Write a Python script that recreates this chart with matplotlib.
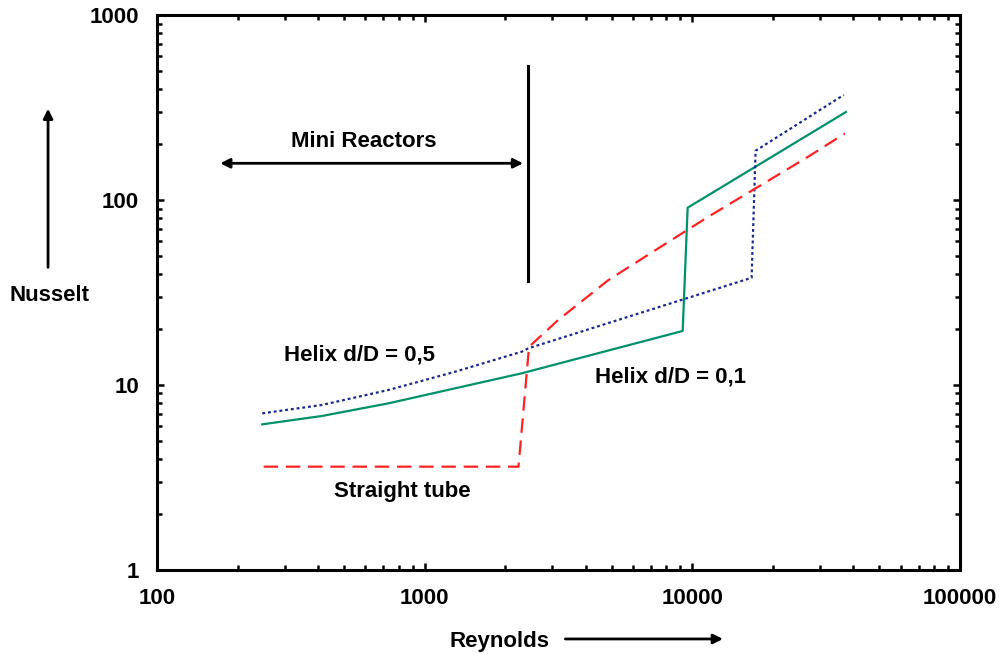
import matplotlib.pyplot as plt
from matplotlib.patches import FancyArrowPatch
from matplotlib.ticker import FixedLocator, FixedFormatter, LogLocator, NullFormatter

# data (Reynolds, Nusselt)
straight_re = [250, 2240, 2453, 3156, 4852, 7457, 11470, 17630, 27090, 37150]
straight_nu = [3.62, 3.62, 16.1, 22.5, 36.9, 54.8, 81.2, 118, 171.5, 229]

helix01_re = [247, 412, 731, 1298, 2303, 9200, 9603, 37480]
helix01_nu = [6.13, 6.80, 7.96, 9.60, 11.57, 19.6, 90.9, 299]

helix05_re = [247, 412, 731, 1298, 2303, 2438, 16650, 17230, 36800]
helix05_nu = [7.03, 7.80, 9.40, 11.80, 15.14, 15.79, 38.0, 184.7, 370]

x_ticks = [100, 1000, 10000, 100000]
y_ticks = [1, 10, 100, 1000]

plt.rcParams['font.family'] = ['Liberation Sans', 'DejaVu Sans']
plt.rcParams['font.weight'] = 'bold'
fs = 16

fig = plt.figure(figsize=(10.01, 6.54), dpi=100)
ax = fig.add_axes([0.157, 0.1284, 0.802, 0.8486])

ax.plot(helix01_re, helix01_nu, color='#00916b', lw=1.6)
ax.plot(helix05_re, helix05_nu, color='#1a2a8e', lw=1.6, dashes=(1.3, 1.3))
ax.plot(straight_re, straight_nu, color='#ff2222', lw=1.6, dashes=(6.5, 3.5))

ax.set_xscale('log')
ax.set_yscale('log')
ax.set_xlim(100, 100000)
ax.set_ylim(1, 1000)

for axis, ticks in ((ax.xaxis, x_ticks), (ax.yaxis, y_ticks)):
    axis.set_major_locator(FixedLocator(ticks))
    axis.set_major_formatter(FixedFormatter([str(t) for t in ticks]))
    axis.set_minor_locator(LogLocator(base=10, subs=range(2, 10)))
    axis.set_minor_formatter(NullFormatter())

ax.tick_params(which='both', direction='in', top=True, right=True, width=1.8)
ax.tick_params(which='major', length=5, labelsize=fs, pad=13)
ax.tick_params(which='minor', length=3.5)
for s in ax.spines.values():
    s.set_linewidth(2.2)

# Mini reactors boundary and arrow
ax.plot([2430, 2430], [36.5, 530], color='black', lw=2.2)
ax.annotate('', xy=(172, 158), xytext=(2330, 158),
            arrowprops=dict(arrowstyle='<|-|>', color='black', lw=2,
                            mutation_scale=14, shrinkA=0, shrinkB=0))
ax.text(593, 206, 'Mini Reactors', fontsize=fs, fontweight='bold', ha='center', va='center')
ax.text(569, 14.5, 'Helix d/D = 0,5', fontsize=fs, fontweight='bold', ha='center', va='center')
ax.text(8320, 11.0, 'Helix d/D = 0,1', fontsize=fs, fontweight='bold', ha='center', va='center')
ax.text(822, 2.67, 'Straight tube', fontsize=fs, fontweight='bold', ha='center', va='center')

# axis labels with arrows, drawn in figure coordinates
fig.text(0.049, 0.548, 'Nusselt', fontsize=fs, fontweight='bold', ha='center', va='center')
fig.patches.append(FancyArrowPatch(
    (0.048, 0.587), (0.048, 0.838), transform=fig.transFigure,
    arrowstyle='-|>', color='black', lw=2, mutation_scale=14))
fig.text(0.4995, 0.019, 'Reynolds', fontsize=fs, fontweight='bold', ha='center', va='center')
fig.patches.append(FancyArrowPatch(
    (0.562, 0.023), (0.725, 0.023), transform=fig.transFigure,
    arrowstyle='-|>', color='black', lw=2, mutation_scale=14))

fig.savefig('out.png', dpi=100)
plt.close(fig)
